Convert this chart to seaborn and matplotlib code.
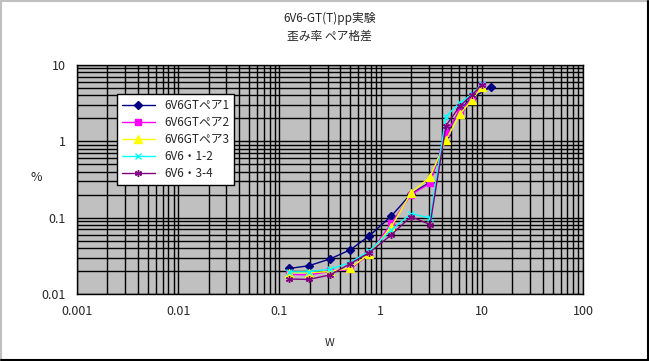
import numpy as np
import pandas as pd
import matplotlib
matplotlib.use('Agg')
import matplotlib.pyplot as plt
import matplotlib.ticker as mticker
from matplotlib.lines import Line2D
import seaborn as sns

# data (W vs distortion %)
x_pair1 = [0.125, 0.195, 0.318, 0.5, 0.767, 1.28, 2.0, 3.08, 4.43, 6.1, 8.0, 12.3]
y_pair1 = [0.0216, 0.0234, 0.0288, 0.0378, 0.057, 0.105, 0.205, 0.29, 1.2, 2.6, 3.7, 5.1]

x_pair2 = [0.125, 0.195, 0.318, 0.5, 0.767, 1.28, 2.0, 3.08, 4.43, 6.1, 8.0, 10.0]
y_pair2 = [0.018, 0.0178, 0.0197, 0.021, 0.0333, 0.0837, 0.2, 0.28, 1.27, 2.5, 3.6, 5.4]

x_pair3 = [0.125, 0.195, 0.318, 0.5, 0.767, 1.28, 2.0, 3.08, 4.43, 6.1, 8.0, 10.0]
y_pair3 = [0.019, 0.019, 0.0197, 0.0218, 0.0333, 0.0762, 0.21, 0.34, 1.04, 2.27, 3.46, 5.1]

x_v12 = [0.125, 0.195, 0.318, 0.5, 0.767, 1.28, 2.0, 3.08, 4.43, 6.1, 8.0, 10.0]
y_v12 = [0.0195, 0.0195, 0.0211, 0.0258, 0.0363, 0.069, 0.113, 0.098, 2.1, 3.2, 4.1, 5.6]

x_v34 = [0.125, 0.195, 0.318, 0.5, 0.767, 1.28, 2.0, 3.08, 4.43, 6.1, 8.0, 10.0]
y_v34 = [0.0157, 0.0155, 0.0178, 0.0249, 0.0345, 0.0597, 0.103, 0.081, 1.6, 2.9, 4.0, 5.5]

labels = ['6V6GTペア1', '6V6GTペア2', '6V6GTペア3', '6V6・1-2', '6V6・3-4']
colors = ['#000080', '#FF00FF', '#FFFF00', '#00FFFF', '#800080']
markers = ['D', 's', '^', 'x', (6, 2, 0)]
msizes = [4, 5, 6, 4, 5]

sns.set_style('white')
plt.rcParams['font.family'] = ['Noto Sans CJK JP', 'DejaVu Sans']

fig = plt.figure(figsize=(6.49, 3.61), dpi=100)
ax = fig.add_axes([77 / 649, 1 - 294 / 361, 506 / 649, (294 - 64.7) / 361])
ax.set_facecolor('#C0C0C0')

series = [(x_pair1, y_pair1), (x_pair2, y_pair2), (x_pair3, y_pair3),
          (x_v12, y_v12), (x_v34, y_v34)]
for (xs, ys), lab, c, m, ms in zip(series, labels, colors, markers, msizes):
    df = pd.DataFrame({'W': xs, 'pct': ys})
    sns.lineplot(data=df, x='W', y='pct', ax=ax, color=c, marker=m,
                 markersize=ms, markeredgecolor=c, markerfacecolor=c,
                 markeredgewidth=1, linewidth=1, sort=False, label=lab,
                 zorder=3)

ax.set_xscale('log')
ax.set_yscale('log')
ax.set_xlim(0.001, 100)
ax.set_ylim(0.01, 10)

ax.xaxis.set_major_locator(mticker.LogLocator(base=10, numticks=10))
ax.xaxis.set_minor_locator(mticker.LogLocator(base=10, subs=np.arange(2, 10), numticks=20))
ax.yaxis.set_major_locator(mticker.LogLocator(base=10, numticks=10))
ax.yaxis.set_minor_locator(mticker.LogLocator(base=10, subs=np.arange(2, 10), numticks=20))
fmt = mticker.FuncFormatter(lambda v, p: '%g' % v)
ax.xaxis.set_major_formatter(fmt)
ax.yaxis.set_major_formatter(fmt)
ax.xaxis.set_minor_formatter(mticker.NullFormatter())
ax.yaxis.set_minor_formatter(mticker.NullFormatter())

ax.grid(True, which='both', color='black', linewidth=1)
ax.set_axisbelow(True)
ax.tick_params(which='both', length=0, labelsize=9, pad=8)
for s in ax.spines.values():
    s.set_color('black')
    s.set_linewidth(1)

ax.set_xlabel('W', fontsize=8, labelpad=14)
ax.set_ylabel('%', fontsize=9, rotation=0, labelpad=22)
ax.yaxis.set_label_coords(-0.08, 0.48)

fig.text(0.508, 0.94, '6V6-GT(T)pp実験', ha='center', fontsize=8.5)
fig.text(0.508, 0.89, '歪み率 ペア格差', ha='center', fontsize=8.5)

leg = ax.legend(loc='upper left', bbox_to_anchor=(0.079, 0.872), fontsize=8.5,
                frameon=True, fancybox=False, framealpha=1, edgecolor='black',
                borderpad=0.4, labelspacing=0.35, handlelength=2.8,
                borderaxespad=0)
leg.get_frame().set_linewidth(1)

# chart frame
fig.add_artist(Line2D([0.001, 0.999], [0.998, 0.998], color='#C0C0C0', lw=1.5, transform=fig.transFigure))
fig.add_artist(Line2D([0.002, 0.002], [0.002, 0.998], color='#C0C0C0', lw=1.5, transform=fig.transFigure))
fig.add_artist(Line2D([0.001, 0.999], [0.002, 0.002], color='black', lw=1.5, transform=fig.transFigure))
fig.add_artist(Line2D([0.998, 0.998], [0.002, 0.998], color='black', lw=1.5, transform=fig.transFigure))

fig.savefig('out.png', dpi=100, facecolor='white')
